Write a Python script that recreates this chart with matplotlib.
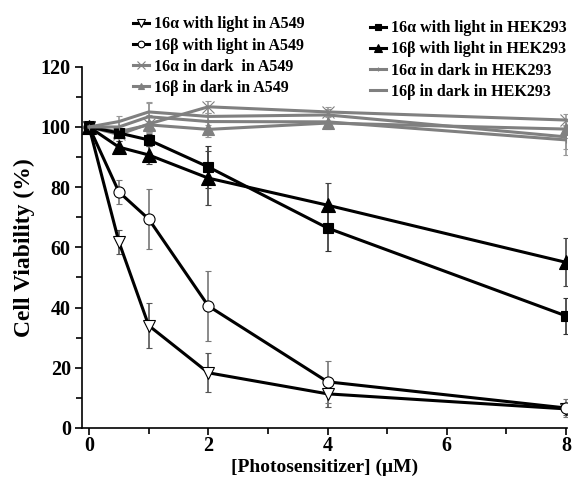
import matplotlib.pyplot as plt

plt.rcParams['font.family'] = 'Liberation Serif'
plt.rcParams['font.weight'] = 'bold'

# concentrations (uM)
conc = [0, 0.5, 1, 2, 4, 8]

# cell viability (%)
a16_light_a549 = [100, 61.8, 34.0, 18.3, 11.3, 6.3]
a16_light_a549_err = [0, 4.0, 7.5, 6.5, 4.5, 2.0]
b16_light_a549 = [100, 78.4, 69.4, 40.5, 15.3, 6.6]
b16_light_a549_err = [0, 4.0, 10.0, 11.5, 7.0, 3.0]
a16_dark_a549 = [100, 97.5, 101.0, 106.7, 105.0, 102.3]
a16_dark_a549_err = [0, 2.0, 3.0, 2.0, 1.5, 2.0]
b16_dark_a549 = [100, 98.4, 100.7, 99.2, 101.3, 99.3]
b16_dark_a549_err = [0, 2.0, 2.5, 2.5, 2.0, 3.0]

a16_light_hek = [100, 98.0, 95.7, 86.7, 66.4, 37.2]
a16_light_hek_err = [0, 1.5, 2.0, 7.0, 7.5, 6.0]
b16_light_hek = [100, 93.3, 90.7, 83.0, 74.0, 55.0]
b16_light_hek_err = [0, 2.0, 3.0, 9.0, 7.5, 8.0]
a16_dark_hek = [100, 100.0, 103.4, 101.8, 101.7, 95.7]
a16_dark_hek_err = [0, 2.0, 5.0, 3.0, 2.0, 5.0]
b16_dark_hek = [100, 101.8, 105.0, 103.5, 104.0, 96.7]
b16_dark_hek_err = [0, 2.0, 3.0, 3.0, 2.0, 4.0]

labels_a549 = ['16α with light in A549', '16β with light in A549',
               '16α in dark  in A549', '16β in dark in A549']
labels_hek = ['16α with light in HEK293', '16β with light in HEK293',
              '16α in dark in HEK293', '16β in dark in HEK293']

fig = plt.figure(figsize=(5.73, 4.84), dpi=100)
ax = fig.add_axes([0.143, 0.116, 0.847, 0.746])

black = 'black'
gray = '#808080'
lw = 2.2

def draw(y, err, color, marker, mfc, ecolor, ms=8):
    c = ax.errorbar(conc, y, yerr=err, color=color, lw=lw,
                    marker=marker, ms=ms, mfc=mfc, mec=color, mew=0.8,
                    ecolor=ecolor, elinewidth=1.2, capsize=2.5, capthick=1.2)
    return c[0]

h1 = draw(a16_light_a549, a16_light_a549_err, black, 'v', 'white', '#555555', 9)
h2 = draw(b16_light_a549, b16_light_a549_err, black, 'o', 'white', '#777777', 8)
h3 = draw(a16_dark_a549, a16_dark_a549_err, gray, 'x', gray, '#999999', 9)
h4 = draw(b16_dark_a549, b16_dark_a549_err, gray, '^', gray, '#999999', 8)
h5 = draw(a16_light_hek, a16_light_hek_err, black, 's', black, '#333333', 7)
h6 = draw(b16_light_hek, b16_light_hek_err, black, '^', black, '#444444', 10)
h7 = draw(a16_dark_hek, a16_dark_hek_err, gray, '|', gray, '#999999', 5)
h8 = draw(b16_dark_hek, b16_dark_hek_err, gray, None, gray, '#999999')

ax.set_xlim(-0.12, 8.02)
ax.set_ylim(0, 120)
ax.set_xticks([0, 2, 4, 6, 8])
ax.set_xticks([1, 3, 5, 7], minor=True)
ax.set_yticks(range(0, 121, 20))
ax.set_yticks(range(10, 120, 20), minor=True)
ax.tick_params(axis='both', which='major', labelsize=14.5, length=5, width=1.2)
ax.tick_params(axis='x', which='major', pad=1)
ax.tick_params(axis='y', which='major', pad=3)
ax.tick_params(axis='both', which='minor', length=4, width=1.2)
ax.spines['top'].set_visible(False)
ax.spines['right'].set_visible(False)
ax.spines['left'].set_linewidth(1.2)
ax.spines['bottom'].set_linewidth(1.2)

ax.set_xlabel('[Photosensitizer] (μM)', fontsize=14, fontweight='bold', labelpad=2)
ax.set_ylabel('Cell Viability (%)', fontsize=17, fontweight='bold', labelpad=4)

leg_kw = dict(frameon=False, loc='upper left', fontsize=11.5, handlelength=1.0,
              handletextpad=0.35, labelspacing=0.32, markerscale=0.6,
              borderpad=0, borderaxespad=0)
fig.legend([h1, h2, h3, h4], labels_a549, bbox_to_anchor=(0.232, 0.966), **leg_kw)
fig.legend([h5, h6, h7, h8], labels_hek, bbox_to_anchor=(0.645, 0.958), **leg_kw)

fig.savefig('out.png', dpi=100)
